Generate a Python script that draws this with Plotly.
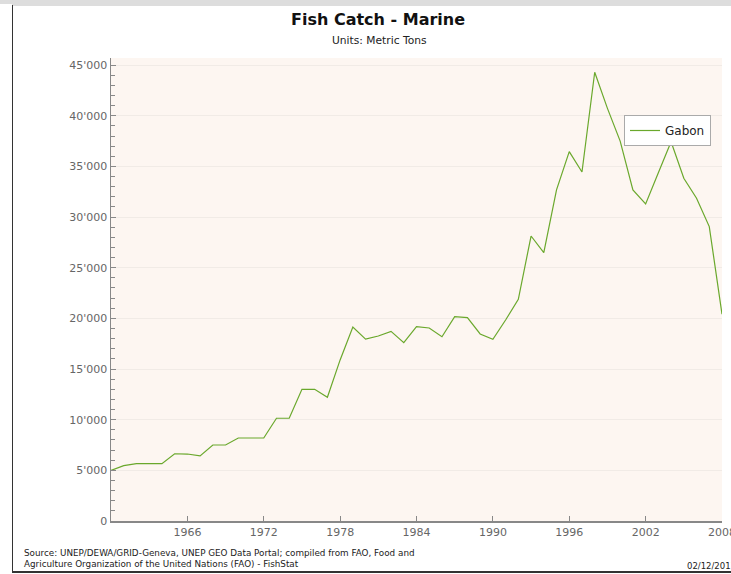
import plotly.graph_objects as go

years = list(range(1960, 2009))
gabon = [5000, 5460, 5660, 5660, 5660, 6640, 6610, 6420, 7500, 7500,
         8190, 8190, 8190, 10140, 10140, 13000, 13000, 12210, 15900, 19150,
         17950, 18260, 18720, 17600, 19180, 19050, 18190, 20170, 20070, 18460,
         17940, 19840, 21880, 28130, 26490, 32680, 36460, 34450, 44290, 40730,
         37500, 32680, 31300, 34380, 37440, 33830, 31860, 29060, 20410]

x_tickvals = [1966, 1972, 1978, 1984, 1990, 1996, 2002, 2008]
x_ticktext = ["1966", "1972", "1978", "1984", "1990", "1996", "2002", "2008"]
y_tickvals = [0, 5000, 10000, 15000, 20000, 25000, 30000, 35000, 40000, 45000]
y_ticktext = ["0", "5'000", "10'000", "15'000", "20'000", "25'000",
              "30'000", "35'000", "40'000", "45'000"]

W, H = 731, 574
L, R, T, B = 111, 9, 58, 53
PW, PH = W - L - R, H - T - B

def px(x):
    return (x - L) / PW

def py(y):
    return (H - B - y) / PH

FONT = "DejaVu Sans"

fig = go.Figure()
fig.add_trace(go.Scatter(x=years, y=gabon, mode="lines", name="Gabon",
                         line=dict(color="#6aa82c", width=1.2),
                         hoverinfo="skip", cliponaxis=False))

fig.update_layout(
    width=W, height=H,
    margin=dict(l=L, r=R, t=T, b=B, autoexpand=False),
    paper_bgcolor="white",
    plot_bgcolor="#fdf6f1",
    font=dict(family=FONT, size=11, color="#666666"),
    showlegend=True,
    legend=dict(x=px(624), y=py(115), xanchor="left", yanchor="top",
                bgcolor="white", bordercolor="#aaaaaa", borderwidth=1,
                font=dict(family=FONT, size=12, color="#222222"),
                itemwidth=30, tracegroupgap=0),
    xaxis=dict(range=[1960, 2008], tickvals=x_tickvals, ticktext=x_ticktext,
               showgrid=False, zeroline=False, showline=True,
               linecolor="#888888", linewidth=1.5,
               ticks="inside", ticklen=5, tickcolor="#888888",
               ticklabeloverflow="allow", automargin=False,
               tickfont=dict(family=FONT, size=11, color="#666666")),
    yaxis=dict(range=[0, 45700], tickvals=y_tickvals, ticktext=y_ticktext,
               showgrid=True, gridcolor="#f1ebe6", gridwidth=1,
               zeroline=False, showline=True, automargin=False,
               linecolor="#888888", linewidth=1.5,
               ticks="inside", ticklen=5, tickcolor="#888888",
               minor=dict(dtick=1000, ticks="inside", ticklen=4,
                          tickcolor="#888888", showgrid=False),
               tickfont=dict(family=FONT, size=11, color="#666666")),
)

annotations = [
    dict(text="<b>Fish Catch - Marine</b>", x=px(378), y=py(20),
         font=dict(family=FONT, size=16, color="#111111")),
    dict(text="Units: Metric Tons", x=px(379), y=py(40),
         font=dict(family=FONT, size=10.7, color="#222222")),
    dict(text="Source: UNEP/DEWA/GRID-Geneva, UNEP GEO Data Portal; compiled from FAO, Food and<br>"
              "Agriculture Organization of the United Nations (FAO) - FishStat",
         x=px(22), y=py(558), xanchor="left", align="left",
         font=dict(family=FONT, size=8.8, color="#222222")),
    dict(text="02/12/2011", x=px(685), y=py(566), xanchor="left",
         font=dict(family=FONT, size=8.5, color="#222222")),
]
for a in annotations:
    a.update(xref="paper", yref="paper", showarrow=False,
             xanchor=a.get("xanchor", "center"), yanchor="middle")
    fig.add_annotation(**a)

shapes = [
    dict(type="rect", x0=px(0), x1=px(W), y0=py(0), y1=py(4),
         fillcolor="#dddddd", line=dict(width=0)),
    dict(type="line", x0=px(12), x1=px(W + 5), y0=py(5), y1=py(5),
         line=dict(color="#bbbbbb", width=1)),
    dict(type="line", x0=px(12.5), x1=px(12.5), y0=py(5), y1=py(572),
         line=dict(color="#333333", width=1)),
    dict(type="line", x0=px(12), x1=px(W + 5), y0=py(572), y1=py(572),
         line=dict(color="#333333", width=2)),
]
for s in shapes:
    s.update(xref="paper", yref="paper", layer="below")
    fig.add_shape(**s)

fig.write_html(
    "out.html",
    config={"displayModeBar": False, "staticPlot": True},
    post_script="document.body.style.margin='0';document.body.style.overflow='hidden';",
)
